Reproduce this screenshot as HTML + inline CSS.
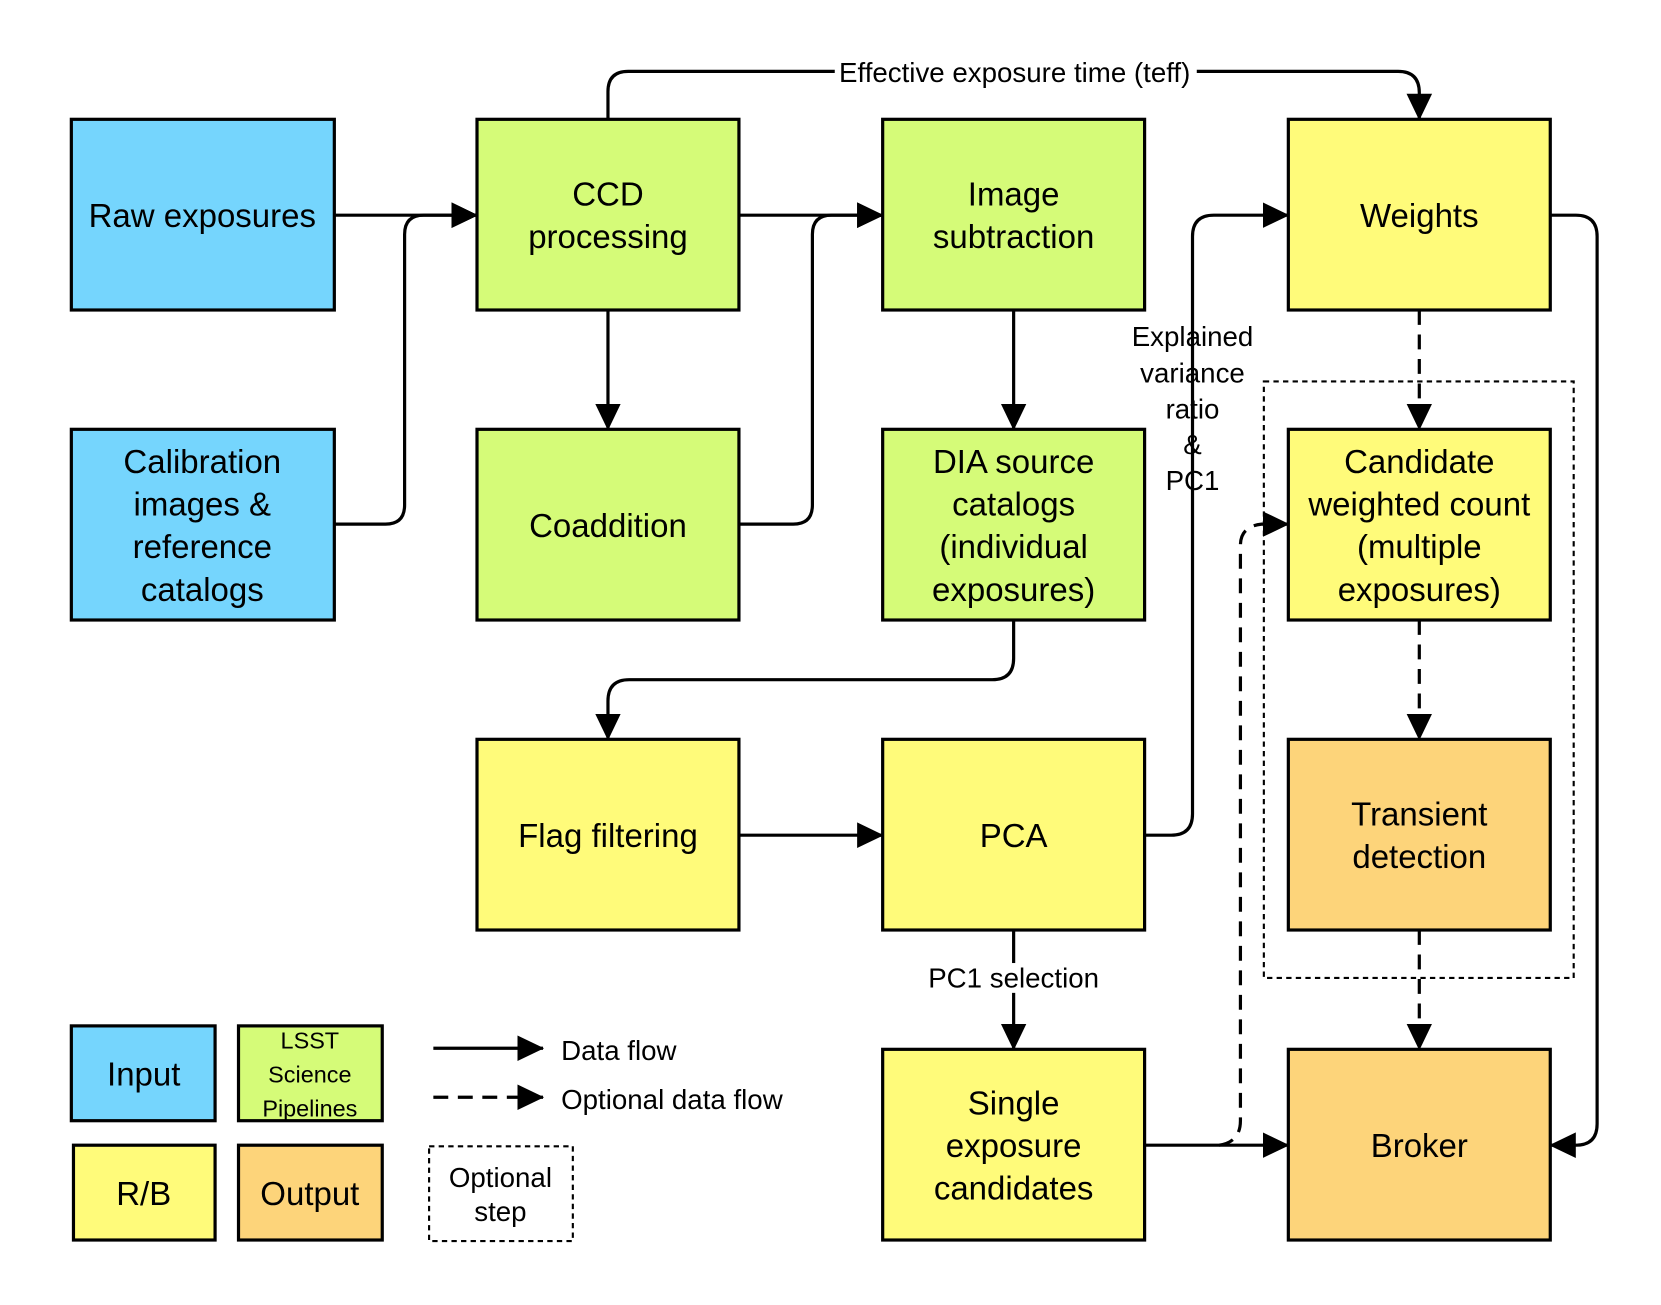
<!DOCTYPE html>
<html><head><meta charset="utf-8"><style>
html,body{margin:0;padding:0;background:#fff;}
svg{display:block;}
text{font-family:"Liberation Sans",Arial,sans-serif;fill:#000;text-anchor:middle;}
.b{font-size:31px;}
.l{font-size:26px;}
</style></head><body>
<svg width="1661" height="1305" viewBox="0 0 1560 1225" preserveAspectRatio="none" xmlns="http://www.w3.org/2000/svg">
<defs>
<marker id="a" markerUnits="userSpaceOnUse" markerWidth="26" markerHeight="26" viewBox="0 0 26 26" refX="24" refY="13" orient="auto">
<path d="M0,1 L25,13 L0,25 Z" fill="#000"/>
</marker>
</defs>
<g stroke="#000" stroke-width="3">
<rect x="67" y="112" width="247" height="179" fill="#75d5fd"/>
<rect x="67" y="403" width="247" height="179" fill="#75d5fd"/>
<rect x="448" y="112" width="246" height="179" fill="#d5fb78"/>
<rect x="448" y="403" width="246" height="179" fill="#d5fb78"/>
<rect x="829" y="112" width="246" height="179" fill="#d5fb78"/>
<rect x="829" y="403" width="246" height="179" fill="#d5fb78"/>
<rect x="1210" y="112" width="246" height="179" fill="#fffb7a"/>
<rect x="1210" y="403" width="246" height="179" fill="#fffb7a"/>
<rect x="448" y="694" width="246" height="179" fill="#fffb7a"/>
<rect x="829" y="694" width="246" height="179" fill="#fffb7a"/>
<rect x="1210" y="694" width="246" height="179" fill="#fdd47a"/>
<rect x="829" y="985" width="246" height="179" fill="#fffb7a"/>
<rect x="1210" y="985" width="246" height="179" fill="#fdd47a"/>
<rect x="67" y="963" width="135" height="89" fill="#75d5fd"/>
<rect x="224" y="963" width="135" height="89" fill="#d5fb78"/>
<rect x="69" y="1075" width="133" height="89" fill="#fffb7a"/>
<rect x="224" y="1075" width="135" height="89" fill="#fdd47a"/>
</g>
<g fill="none" stroke="#000" stroke-width="2" stroke-dasharray="5,4">
<rect x="403" y="1076" width="135" height="89"/>
<rect x="1187" y="358" width="291" height="560"/>
</g>
<g fill="none" stroke="#000" stroke-width="3">
<path d="M314,202 H448" marker-end="url(#a)"/>
<path d="M314,492 H362 Q380,492 380,474 V220 Q380,202 398,202 H448" marker-end="url(#a)"/>
<path d="M571,112 V86 Q571,67 590,67 H1313 Q1333,67 1333,87 V112" marker-end="url(#a)"/>
<path d="M694,202 H829" marker-end="url(#a)"/>
<path d="M694,492 H745 Q763,492 763,474 V220 Q763,202 781,202 H829" marker-end="url(#a)"/>
<path d="M571,291 V403" marker-end="url(#a)"/>
<path d="M952,291 V403" marker-end="url(#a)"/>
<path d="M952,582 V618 Q952,638 932,638 H591 Q571,638 571,658 V694" marker-end="url(#a)"/>
<path d="M694,784 H829" marker-end="url(#a)"/>
<path d="M1075,784 H1100 Q1120,784 1120,764 V222 Q1120,202 1140,202 H1210" marker-end="url(#a)"/>
<path d="M952,873 V985" marker-end="url(#a)"/>
<path d="M1075,1075 H1210" marker-end="url(#a)"/>
<path d="M1456,202 H1480 Q1500,202 1500,222 V1055 Q1500,1075 1480,1075 H1456" marker-end="url(#a)"/>
<path d="M407,984 H510" marker-end="url(#a)"/>
</g>
<g fill="none" stroke="#000" stroke-width="3" stroke-dasharray="14,9">
<path d="M1145,1075 Q1165,1072 1165,1052 V512 Q1165,494 1185,492 H1210" marker-end="url(#a)"/>
<path d="M1333,291 V403" marker-end="url(#a)"/>
<path d="M1333,582 V694" marker-end="url(#a)"/>
<path d="M1333,873 V985" marker-end="url(#a)"/>
<path d="M407,1030 H510" marker-end="url(#a)"/>
</g>
<rect x="784" y="54" width="340" height="28" fill="#fff"/>
<rect x="868" y="904" width="168" height="28" fill="#fff"/>
<text class="b" x="190" y="213">Raw exposures</text>
<text class="b"><tspan x="190" y="444">Calibration</tspan><tspan x="190" y="484">images &amp;</tspan><tspan x="190" y="524">reference</tspan><tspan x="190" y="564">catalogs</tspan></text>
<text class="b"><tspan x="571" y="193">CCD</tspan><tspan x="571" y="233">processing</tspan></text>
<text class="b" x="571" y="504">Coaddition</text>
<text class="b"><tspan x="952" y="193">Image</tspan><tspan x="952" y="233">subtraction</tspan></text>
<text class="b"><tspan x="952" y="444">DIA source</tspan><tspan x="952" y="484">catalogs</tspan><tspan x="952" y="524">(individual</tspan><tspan x="952" y="564">exposures)</tspan></text>
<text class="b" x="1333" y="213">Weights</text>
<text class="b"><tspan x="1333" y="444">Candidate</tspan><tspan x="1333" y="484">weighted count</tspan><tspan x="1333" y="524">(multiple</tspan><tspan x="1333" y="564">exposures)</tspan></text>
<text class="b" x="571" y="795">Flag filtering</text>
<text class="b" x="952" y="795">PCA</text>
<text class="b"><tspan x="1333" y="775">Transient</tspan><tspan x="1333" y="815">detection</tspan></text>
<text class="b"><tspan x="952" y="1046">Single</tspan><tspan x="952" y="1086">exposure</tspan><tspan x="952" y="1126">candidates</tspan></text>
<text class="b" x="1333" y="1086">Broker</text>
<text class="b" x="135" y="1019">Input</text>
<text style="font-size:22px"><tspan x="291" y="984">LSST</tspan><tspan x="291" y="1016">Science</tspan><tspan x="291" y="1048">Pipelines</tspan></text>
<text class="b" x="135" y="1131">R/B</text>
<text class="b" x="291" y="1131">Output</text>
<text class="l"><tspan x="470" y="1114">Optional</tspan><tspan x="470" y="1146">step</tspan></text>
<text class="l" x="953" y="77">Effective exposure time (teff)</text>
<text class="l" x="952" y="927">PC1 selection</text>
<text class="l"><tspan x="1120" y="325">Explained</tspan><tspan x="1120" y="359">variance</tspan><tspan x="1120" y="393">ratio</tspan><tspan x="1120" y="426">&amp;</tspan><tspan x="1120" y="460">PC1</tspan></text>
<text class="l" style="text-anchor:start" x="527" y="995">Data flow</text>
<text class="l" style="text-anchor:start" x="527" y="1041">Optional data flow</text>
</svg>
</body></html>
